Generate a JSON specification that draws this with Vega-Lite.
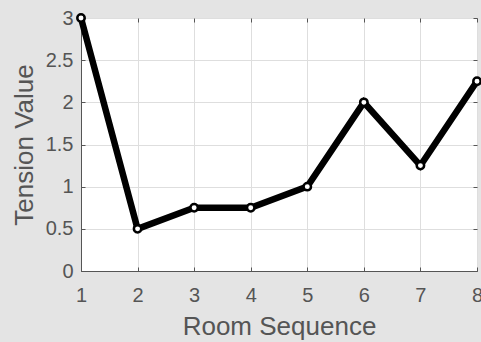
{
  "$schema": "https://vega.github.io/schema/vega-lite/v6.json",
  "width": 396,
  "height": 253,
  "autosize": {"type": "none"},
  "padding": {"left": 81, "top": 18, "right": 4, "bottom": 71},
  "background": "#e4e4e4",
  "config": {
    "view": {"fill": "white", "stroke": "#555555", "strokeWidth": 1},
    "font": "Liberation Sans",
    "axis": {
      "domainColor": "#555555",
      "tickColor": "#555555",
      "gridColor": "#dedede",
      "gridWidth": 1,
      "labelColor": "#555555",
      "titleColor": "#555555",
      "labelFontSize": 20,
      "titleFontSize": 26,
      "titleFontWeight": "normal",
      "tickSize": -4,
      "format": "~g"
    }
  },
  "data": {
    "values": [
      {"room": 1, "tension": 3},
      {"room": 2, "tension": 0.5},
      {"room": 3, "tension": 0.75},
      {"room": 4, "tension": 0.75},
      {"room": 5, "tension": 1},
      {"room": 6, "tension": 2},
      {"room": 7, "tension": 1.25},
      {"room": 8, "tension": 2.25}
    ]
  },
  "resolve": {"axis": {"x": "independent", "y": "independent"}},
  "layer": [
    {
      "mark": {"type": "point", "opacity": 0},
      "encoding": {
        "x": {
          "field": "room",
          "type": "quantitative",
          "scale": {"domain": [1, 8], "nice": false, "zero": false},
          "axis": {"orient": "top", "values": [1,2,3,4,5,6,7,8], "labels": false, "title": null, "grid": false, "domain": false}
        },
        "y": {
          "field": "tension",
          "type": "quantitative",
          "scale": {"domain": [0, 3], "nice": false},
          "axis": {"orient": "right", "values": [0,0.5,1,1.5,2,2.5,3], "labels": false, "title": null, "grid": false, "domain": false}
        }
      }
    },
    {
      "encoding": {
        "x": {
          "field": "room",
          "type": "quantitative",
          "scale": {"domain": [1, 8], "nice": false, "zero": false},
          "axis": {"values": [1,2,3,4,5,6,7,8], "title": "Room Sequence", "labelPadding": 18, "titlePadding": 8, "labelFlush": false, "grid": true}
        },
        "y": {
          "field": "tension",
          "type": "quantitative",
          "scale": {"domain": [0, 3], "nice": false},
          "axis": {"values": [0,0.5,1,1.5,2,2.5,3], "title": "Tension Value", "labelPadding": 12, "titlePadding": 8, "labelFlush": false, "grid": true}
        }
      },
      "layer": [
        {"mark": {"type": "line", "color": "black", "strokeWidth": 6.5, "strokeJoin": "miter", "clip": false}},
        {"mark": {"type": "point", "shape": "circle", "filled": true, "fill": "white", "stroke": "black", "strokeWidth": 2.5, "size": 55, "opacity": 1, "clip": false}}
      ]
    }
  ]
}
